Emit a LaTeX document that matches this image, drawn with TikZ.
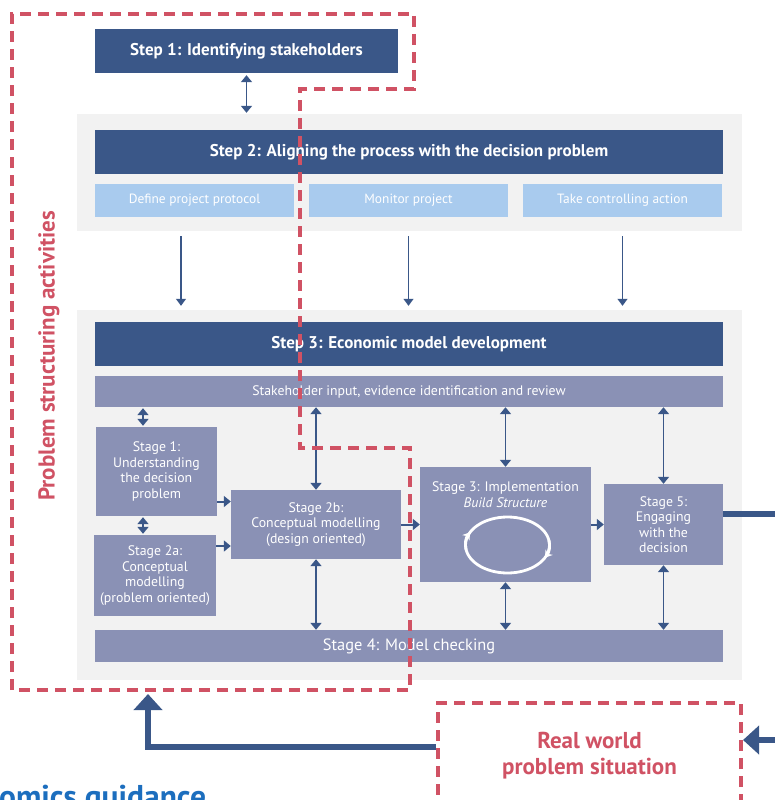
\documentclass[tikz,border=0pt]{standalone}
\usepackage{fontspec}
\setmainfont{PT Sans}
\usetikzlibrary{arrows.meta}

\definecolor{stepblue}{RGB}{58,87,136}
\definecolor{subblue}{RGB}{169,203,238}
\definecolor{stagegrey}{RGB}{138,145,181}
\definecolor{panelgrey}{RGB}{242,242,242}
\definecolor{psred}{RGB}{208,82,100}
\definecolor{titleblue}{RGB}{28,110,190}

\tikzset{
  panel/.style={fill=panelgrey, minimum width=665pt, inner sep=0pt},
  stepbar/.style={fill=stepblue, text=white, font=\bfseries\fontsize{17}{19}\selectfont,
    minimum width=628pt, minimum height=44pt, inner sep=0pt},
  subbox/.style={fill=subblue, text=white, font=\fontsize{13.4}{15}\selectfont,
    minimum width=199pt, minimum height=33pt, inner sep=0pt},
  stagebar/.style={fill=stagegrey, text=white, minimum width=628pt, inner sep=0pt},
  stagebox/.style={fill=stagegrey, text=white, align=center,
    font=\fontsize{13.8}{15.4}\selectfont, inner sep=0pt},
  downarrow/.style={draw=stepblue, line width=1.3pt, -{Triangle[width=10pt,length=7pt]}},
  dblarrow/.style={draw=stepblue, line width=1.8pt,
    {Triangle[width=11pt,length=7pt]}-{Triangle[width=11pt,length=7pt]}},
  fwdarrow/.style={draw=stepblue, line width=2pt, -{Triangle[width=11pt,length=7pt]}},
  bigarrow/.style={draw=stepblue, line width=6pt, -{Triangle[width=28pt,length=16pt]}},
  psline/.style={draw=psred, line width=4pt, dash pattern=on 11pt off 7pt},
  pslabel/.style={text=psred, font=\bfseries\fontsize{23}{25.5}\selectfont, align=center}
}

\begin{document}
\begin{tikzpicture}[x=1pt,y=-1pt]
    \useasboundingbox (0,0) rectangle (775,800);
    \clip (0,0) rectangle (775,800);

    \node[stepbar, minimum width=303pt] (step1) at (246.5,51) {Step 1: Identifying stakeholders};

    \node[panel, minimum height=117pt] (panel2) at (409.5,172.5) {};
    \node[stepbar] (step2) at (409,152) {Step 2: Aligning the process with the decision problem};
    \node[subbox] (define) at (194.5,200.5) {Define project protocol};
    \node[subbox] (monitor) at (408.5,200.5) {Monitor project};
    \node[subbox] (control) at (622.5,200.5) {Take controlling action};

    \node[panel, minimum height=370pt] (panel3) at (409.5,495) {};
    \node[stepbar] (step3) at (409,344) {Step 3: Economic model development};
    \node[stagebar, minimum height=31pt, font=\fontsize{13.8}{15}\selectfont] (input) at (409,391.5)
        {Stakeholder input, evidence identification and review};
    \node[stagebox, minimum width=121pt, minimum height=89pt] (stage1) at (156.5,471.5)
        {Stage 1:\\Understanding\\the decision\\problem};
    \node[stagebox, minimum width=122pt, minimum height=81pt] (stage2a) at (155,575.5)
        {Stage 2a:\\Conceptual\\modelling\\(problem oriented)};
    \node[stagebox, minimum width=170pt, minimum height=69pt] (stage2b) at (316,524.5)
        {Stage 2b:\\Conceptual modelling\\(design oriented)};
    \node[stagebox, minimum width=171pt, minimum height=115pt] (stage3) at (505.5,524.5) {};
    \node[stagebox, text=white] (stage3txt) at (505.5,494.5)
        {Stage 3: Implementation\\\textit{Build Structure}};
    \node[stagebox, minimum width=119pt, minimum height=81pt] (stage5) at (663.5,524.5)
        {Stage 5:\\Engaging\\with the\\decision};
    \node[stagebar, minimum height=32pt, font=\fontsize{16.4}{18}\selectfont] (stage4) at (409,646)
        {Stage 4: Model checking};

    \draw[white, line width=2.8pt] (507.5,545) ellipse [x radius=42, y radius=28];
    \draw[white, line width=2.8pt, -{Stealth[width=9pt,length=7pt]}]
        (507.5,545) ++(170:42 and 28) arc [start angle=170, end angle=207, x radius=42, y radius=28];
    \draw[white, line width=2.8pt, -{Stealth[width=9pt,length=7pt]}]
        (507.5,545) ++(350:42 and 28) arc [start angle=350, end angle=387, x radius=42, y radius=28];

    \draw[dblarrow, shorten <=2pt, shorten >=1pt] (step1.south) -- (step1.south |- panel2.north);
    \draw[downarrow] ([xshift=-13.5pt,yshift=-5pt]define.south |- panel2.south)
        -- ([xshift=-13.5pt,yshift=4pt]define.south |- panel3.north);
    \foreach \sub in {monitor,control}
        \draw[downarrow] ([yshift=-5pt]\sub.south |- panel2.south) -- ([yshift=4pt]\sub.south |- panel3.north);

    \draw[dblarrow, shorten <=1pt, shorten >=1pt] ([xshift=-13.5pt]stage1.north |- input.south) -- ([xshift=-13.5pt]stage1.north);
    \draw[dblarrow, shorten <=1pt, shorten >=1pt] ([xshift=-13.5pt]stage1.south) -- ([xshift=-13.5pt]stage1.south |- stage2a.north);
    \draw[fwdarrow] ([yshift=-30pt]stage1.east) -- ([yshift=-30pt]stage1.east -| stage2b.west);
    \draw[fwdarrow] ([yshift=29.5pt]stage2a.east) -- ([yshift=29.5pt]stage2a.east -| stage2b.west);
    \draw[fwdarrow] (stage2b.east) -- (stage3.west);
    \draw[fwdarrow] (stage3.east) -- (stage5.west);
    \foreach \st in {stage2b,stage3,stage5} {
        \draw[dblarrow] (\st.north |- input.south) -- (\st.north);
        \draw[dblarrow] (\st.south) -- (\st.south |- stage4.north);
    }

    \draw[psline] (12,690) -- (12,14) -- (414,14) -- (414,89) -- (300,89) -- (300,448)
        -- (410,448) -- (410,690) -- cycle;
    \node[pslabel, rotate=90] (pslabel) at (49,356) {Problem structuring activities};
    \coordinate (psbottom) at (148,694);

    \node[psline, pslabel, minimum width=303pt, minimum height=105pt, inner sep=0pt] (realworld) at (589.5,755.5)
        {Real world\\problem situation};

    \coordinate (outright) at (800,514);
    \coordinate (inright) at (800,740);
    \draw[draw=stepblue, line width=6pt] ([yshift=10.5pt]stage5.east) -- (outright);
    \draw[bigarrow] ([yshift=8.5pt]realworld.west) -| (psbottom);
    \draw[bigarrow] (inright) -- ([yshift=15.5pt]realworld.east);

    \node[anchor=base west, text=titleblue, font=\bfseries\fontsize{31.5}{33}\selectfont, inner sep=0pt] (title) at (-1,807) {omics guidance};
\end{tikzpicture}
\end{document}
